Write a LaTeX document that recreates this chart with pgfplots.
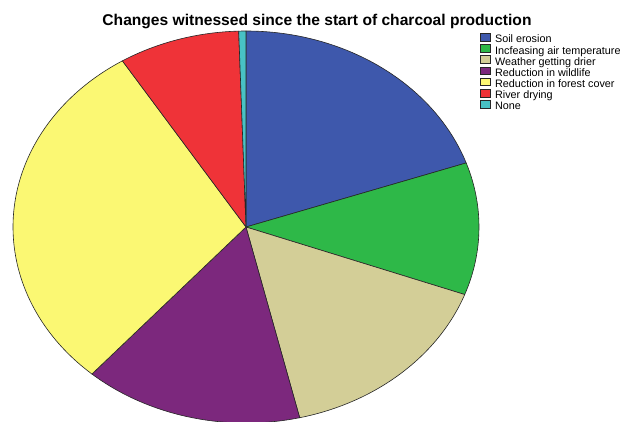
\documentclass[border=0pt]{standalone}
\usepackage{pgfplots}
\pgfplotsset{compat=1.18}
\usepackage{pgfplotstable}
\usepackage{fontspec}
\setmainfont{Liberation Sans}

\definecolor{cA}{HTML}{3E58AC}
\definecolor{cB}{HTML}{2EB848}
\definecolor{cC}{HTML}{D3CE97}
\definecolor{cD}{HTML}{7C287D}
\definecolor{cE}{HTML}{FBF873}
\definecolor{cF}{HTML}{EF3338}
\definecolor{cG}{HTML}{48C2C5}

\pgfplotstableread{
idx value
0 19.7
1 10.9
2 15.7
3 15.2
4 29.6
5 8.4
6 0.5
}\piedata

\newcommand\nextangle[3]{%
  \pgfplotstablegetelem{#1}{value}\of\piedata
  \pgfmathsetmacro#3{#2-3.6*\pgfplotsretval}%
}
\def\aA{90}
\nextangle{0}{\aA}{\aB}
\nextangle{1}{\aB}{\aC}
\nextangle{2}{\aC}{\aD}
\nextangle{3}{\aD}{\aE}
\nextangle{4}{\aE}{\aF}
\nextangle{5}{\aF}{\aG}
\nextangle{6}{\aG}{\aH}
\newcommand\slice[3]{%
  \fill[#3, draw=black!85, line width=0.6pt, line join=round]
    (axis cs:246,194) -- ++({233pt*cos(#1)},{196pt*sin(#1)})
    arc[start angle=#1, end angle=#2, x radius=233pt, y radius=196pt] -- cycle;}

\begin{document}
\begin{tikzpicture}
\begin{axis}[
  scale only axis, width=621pt, height=421pt,
  xmin=0, xmax=621, ymin=0, ymax=421,
  hide axis,
  legend style={at={(axis cs:480,388)}, anchor=north west, draw=none, fill=none,
    font=\fontsize{10.8}{12}\selectfont, row sep=-0.6pt, inner sep=0pt,
    nodes={inner sep=0pt, text height=7.5pt, text depth=2pt},
    column sep=4.5pt},
  legend cell align=left,
  legend image code/.code={\draw[#1, draw=black!85, line width=0.4pt] (0pt,-0.8pt) rectangle (10pt,6.8pt);},
]
\addlegendimage{fill=cA}\addlegendentry{Soil erosion}
\addlegendimage{fill=cB}\addlegendentry{Incfeasing air temperature}
\addlegendimage{fill=cC}\addlegendentry{Weather getting drier}
\addlegendimage{fill=cD}\addlegendentry{Reduction in wildlife}
\addlegendimage{fill=cE}\addlegendentry{Reduction in forest cover}
\addlegendimage{fill=cF}\addlegendentry{River drying}
\addlegendimage{fill=cG}\addlegendentry{None}
\slice{\aA}{\aB}{cA}
\slice{\aB}{\aC}{cB}
\slice{\aC}{\aD}{cC}
\slice{\aD}{\aE}{cD}
\slice{\aE}{\aF}{cE}
\slice{\aF}{\aG}{cF}
\slice{\aG}{\aH}{cG}
\node[font=\bfseries\fontsize{15.6}{17}\selectfont, anchor=base] at (axis cs:317,395.5) {Changes witnessed since the start of charcoal production};
\end{axis}
\pgfresetboundingbox
\useasboundingbox (current axis.south west) rectangle (current axis.north east);
\end{tikzpicture}
\end{document}
